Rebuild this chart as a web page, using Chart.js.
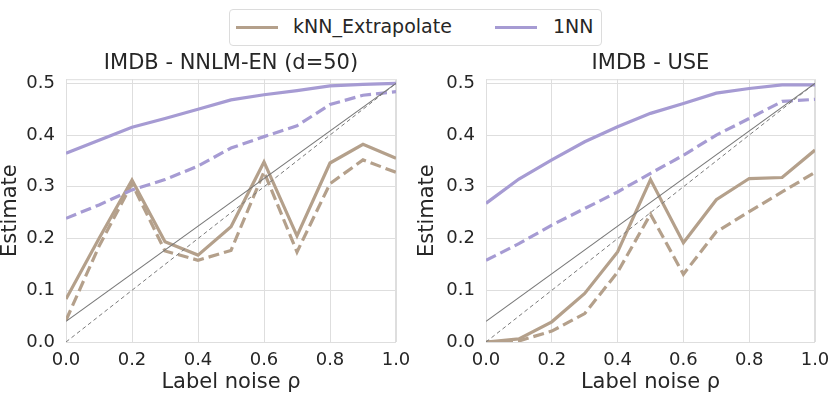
<!DOCTYPE html>
<html>
<head>
<meta charset="utf-8">
<script src="https://cdn.jsdelivr.net/npm/chart.js@4.4.1/dist/chart.umd.min.js"></script>
<style>
  body { margin: 0; background: #fff; font-family: "DejaVu Sans", sans-serif; color: #262626; }
  #wrap { position: relative; width: 831px; height: 397px; overflow: hidden; }
  .cv { position: absolute; top: 0; height: 397px; }
  #legend { position: absolute; left: 229px; top: 9px; width: 371px; height: 35px;
            border: 1px solid #dcdcdc; border-radius: 4px; background: #fff; }
  .sw { position: absolute; height: 3px; top: 16px; width: 42px; }
  .lt { position: absolute; top: 3px; font-size: 19px; line-height: 26px; white-space: nowrap; }
</style>
</head>
<body>
<div id="wrap">
  <div class="cv" style="left:0;width:410px"><canvas id="leftChart"></canvas></div>
  <div class="cv" style="left:410px;width:421px"><canvas id="rightChart"></canvas></div>
  <div id="legend">
    <div class="sw" style="left:6px;background:#b4a08b"></div>
    <div class="lt" style="left:63px">kNN_Extrapolate</div>
    <div class="sw" style="left:265px;background:#a69bd3"></div>
    <div class="lt" style="left:323px">1NN</div>
  </div>
</div>
<script>
// label noise levels
const noise = [0, 0.1, 0.2, 0.3, 0.4, 0.5, 0.6, 0.7, 0.8, 0.9, 1.0];

// IMDB - NNLM-EN (d=50)
const nnlmKnn       = [0.083, 0.200, 0.313, 0.194, 0.168, 0.223, 0.348, 0.205, 0.346, 0.382, 0.355];
const nnlmKnnDash   = [0.042, 0.185, 0.306, 0.176, 0.158, 0.177, 0.329, 0.174, 0.306, 0.352, 0.328];
const nnlm1nn       = [0.365, 0.390, 0.415, 0.432, 0.450, 0.468, 0.478, 0.486, 0.495, 0.498, 0.500];
const nnlm1nnDash   = [0.239, 0.265, 0.294, 0.314, 0.340, 0.375, 0.397, 0.418, 0.459, 0.477, 0.484];

// IMDB - USE
const useKnn        = [0.000, 0.006, 0.039, 0.094, 0.174, 0.314, 0.192, 0.275, 0.316, 0.318, 0.371];
const useKnnDash    = [0.000, 0.002, 0.021, 0.055, 0.135, 0.247, 0.131, 0.213, 0.252, 0.290, 0.328];
const use1nn        = [0.268, 0.315, 0.352, 0.387, 0.416, 0.442, 0.461, 0.481, 0.490, 0.497, 0.497];
const use1nnDash    = [0.158, 0.190, 0.226, 0.258, 0.290, 0.326, 0.361, 0.400, 0.432, 0.465, 0.469];

// reference lines
const refNoise  = [0, 1];
const refSolid  = [0.04, 0.5];
const refDashed = [0, 0.5];

const xTicks = [0, 0.2, 0.4, 0.6, 0.8, 1.0];
const yTicks = [0, 0.1, 0.2, 0.3, 0.4, 0.5];

const KNN = '#b4a08b';
const ONE = '#a69bd3';
const GRID = '#dedede';
const TXT = '#262626';

function pts(xs, ys) {
  return xs.map((x, i) => ({ x: x, y: ys[i] }));
}

function series(data, color, dashed, width, order) {
  return {
    data: data,
    borderColor: color,
    borderWidth: width,
    borderDash: dashed ? (width > 2 ? [11, 5] : [4, 3]) : [],
    pointRadius: 0,
    tension: 0,
    fill: false,
    order: order
  };
}

// light frame round the plot
const framePlugin = {
  id: 'frame',
  beforeDatasetsDraw(chart) {
    const a = chart.chartArea;
    const c = chart.ctx;
    c.save();
    c.strokeStyle = GRID;
    c.lineWidth = 1;
    c.strokeRect(a.left + 0.5, a.top + 0.5, a.right - a.left - 1, a.bottom - a.top);
    c.restore();
  }
};

function makeChart(id, title, knn, knnDash, one, oneDash, yAxisWidth, yTitlePad, padRight) {
  const ctx = document.getElementById(id).getContext('2d');
  return new Chart(ctx, {
    type: 'line',
    data: {
      datasets: [
        series(pts(refNoise, refSolid), '#777777', false, 1.1, 1),
        series(pts(refNoise, refDashed), '#7a7a7a', true, 1, 1),
        series(pts(noise, knn), KNN, false, 3.2, 3),
        series(pts(noise, knnDash), KNN, true, 3.2, 3),
        series(pts(noise, one), ONE, false, 3.2, 2),
        series(pts(noise, oneDash), ONE, true, 3.2, 2)
      ]
    },
    options: {
      responsive: false,
      animation: false,
      layout: { padding: { left: 0, right: padRight, top: 0, bottom: 0 } },
      plugins: {
        legend: { display: false },
        tooltip: { enabled: false },
        title: {
          display: true,
          text: title,
          fullSize: false,
          color: TXT,
          font: { family: 'DejaVu Sans', size: 21, weight: 'normal', lineHeight: 1.2 },
          padding: { top: 51, bottom: 3 }
        }
      },
      scales: {
        x: {
          type: 'linear',
          min: 0,
          max: 1,
          afterFit: (s) => { s.height = 55; s.paddingLeft = 0; s.paddingRight = 0; },
          afterBuildTicks: (s) => { s.ticks = xTicks.map(v => ({ value: v })); },
          ticks: {
            color: TXT,
            font: { family: 'DejaVu Sans', size: 18 },
            padding: 8,
            maxRotation: 0,
            callback: (v) => Number(v).toFixed(1)
          },
          grid: { color: GRID, lineWidth: 1, drawTicks: false },
          border: { display: false },
          title: {
            display: true,
            text: 'Label noise ρ',
            color: TXT,
            font: { family: 'DejaVu Sans', size: 21, lineHeight: 1 },
            padding: { top: 0, bottom: 3.5 }
          }
        },
        y: {
          min: 0,
          max: 0.508,
          afterFit: (s) => { s.width = yAxisWidth; s.paddingTop = 0; s.paddingBottom = 0; },
          afterBuildTicks: (s) => { s.ticks = yTicks.map(v => ({ value: v })); },
          ticks: {
            color: TXT,
            font: { family: 'DejaVu Sans', size: 18 },
            padding: 11,
            callback: (v) => Number(v).toFixed(1)
          },
          grid: { color: GRID, lineWidth: 1, drawTicks: false },
          border: { display: false },
          title: {
            display: true,
            text: 'Estimate',
            color: TXT,
            font: { family: 'DejaVu Sans', size: 21, lineHeight: 1 },
            padding: { top: yTitlePad, bottom: 0 }
          }
        }
      }
    },
    plugins: [framePlugin]
  });
}

const leftCanvas = document.getElementById('leftChart');
leftCanvas.width = 410; leftCanvas.height = 397;
const rightCanvas = document.getElementById('rightChart');
rightCanvas.width = 421; rightCanvas.height = 397;

makeChart('leftChart', 'IMDB - NNLM-EN (d=50)', nnlmKnn, nnlmKnnDash, nnlm1nn, nnlm1nnDash, 66, 0, 14);
makeChart('rightChart', 'IMDB - USE', useKnn, useKnnDash, use1nn, use1nnDash, 76, 7.5, 16);
</script>
</body>
</html>
